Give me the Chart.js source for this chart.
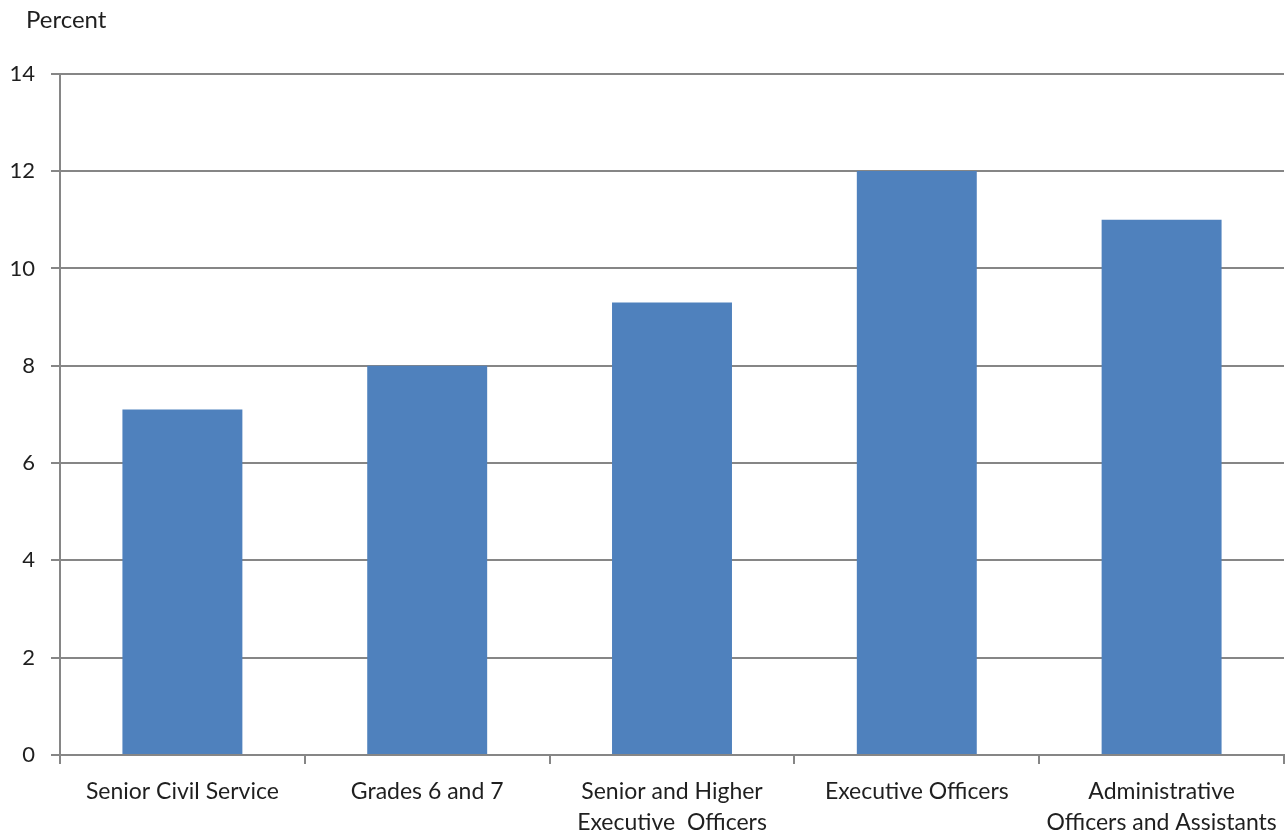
<!DOCTYPE html>
<html>
<head>
<meta charset="utf-8">
<script src="https://cdn.jsdelivr.net/npm/chart.js@4/dist/chart.umd.min.js"></script>
<style>
    html, body { margin: 0; padding: 0; background: #fff; }
    #wrap { width: 1286px; height: 833px; }
</style>
</head>
<body>
<div id="wrap"><canvas id="chart"></canvas></div>
<script>
const categories = [
    'Senior Civil Service',
    'Grades 6 and 7',
    ['Senior and Higher', 'Executive  Officers'],
    'Executive Officers',
    ['Administrative', 'Officers and Assistants']
];
const percentValues = [7.1, 8.0, 9.3, 12.0, 11.0];
const yMin = 0, yMax = 14, yStep = 2;

const fontFamily = 'Lato, "Open Sans", sans-serif';
const axisGrey = '#868686';
const textColour = '#1f1f1f';

new Chart(document.getElementById('chart'), {
    type: 'bar',
    data: {
        labels: categories,
        datasets: [{
            data: percentValues,
            backgroundColor: '#4f81bd',
            borderWidth: 0,
            categoryPercentage: 0.49,
            barPercentage: 1
        }]
    },
    options: {
        responsive: true,
        maintainAspectRatio: false,
        animation: false,
        layout: { padding: { left: 0, right: 2, top: 6, bottom: 0 } },
        plugins: {
            legend: { display: false },
            tooltip: { enabled: false },
            title: {
                display: true,
                text: 'Percent',
                align: 'start',
                color: textColour,
                font: { family: fontFamily, size: 24, weight: 'normal' },
                padding: { top: 0, bottom: 39, left: 0 }
            }
        },
        scales: {
            x: {
                grid: {
                    offset: true,
                    drawOnChartArea: false,
                    drawTicks: true,
                    tickLength: 9,
                    color: axisGrey,
                    lineWidth: 2
                },
                border: { color: axisGrey, width: 2 },
                ticks: {
                    color: textColour,
                    font: { family: fontFamily, size: 23, lineHeight: 1.35 },
                    padding: 12,
                    maxRotation: 0,
                    autoSkip: false
                },
                afterFit(scale) {
                    scale.height = 78;
                    // last label may hang over the edge, don't shrink the plot for it
                    scale.paddingLeft = 0;
                    scale.paddingRight = 0;
                }
            },
            y: {
                min: yMin,
                max: yMax,
                grid: {
                    color: axisGrey,
                    lineWidth: 2,
                    tickLength: 9
                },
                border: { color: axisGrey, width: 2 },
                ticks: {
                    stepSize: yStep,
                    color: textColour,
                    font: { family: fontFamily, size: 22 },
                    padding: 16
                },
                afterFit(scale) { scale.width = 60; }
            }
        }
    },
    plugins: [{
        id: 'titleIndent',
        beforeDraw(chart) {
            // nudge the "Percent" label right, like the original
            chart.titleBlock.left = 26;
        }
    }]
});
</script>
</body>
</html>
